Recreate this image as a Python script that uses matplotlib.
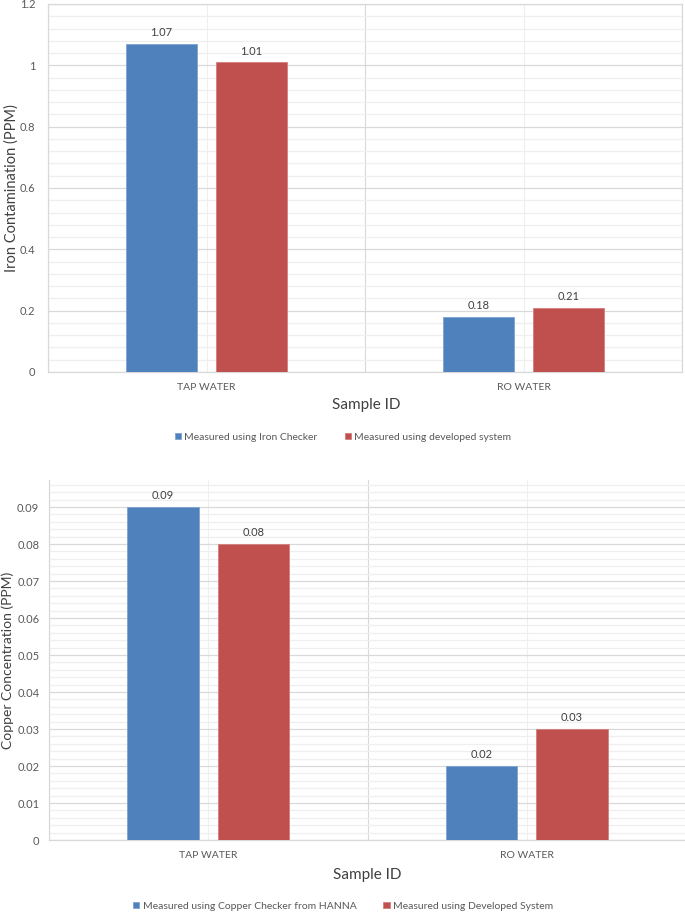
import numpy as np
import matplotlib.pyplot as plt
from matplotlib.ticker import MultipleLocator

plt.rcParams['font.family'] = ['Lato', 'DejaVu Sans']

samples = ["TAP WATER", "RO WATER"]

iron_checker = [1.07, 0.18]
iron_system = [1.01, 0.21]
iron_names = ["Measured using Iron Checker", "Measured using developed system"]

copper_checker = [0.09, 0.02]
copper_system = [0.08, 0.03]
copper_names = ["Measured using Copper Checker from HANNA", "Measured using Developed System"]

blue = "#4F81BD"
red = "#C0504D"
txt = "#595959"
major_c = "#d9d9d9"
minor_c = "#efefef"

W, H = 685, 913
fig = plt.figure(figsize=(W / 100, H / 100), dpi=100)


def draw(ax, a, b, names, ylim, major, minor, fmt, top_border, ypad):
    x = np.arange(len(samples))
    off = 0.142
    bw = 0.224
    b1 = ax.bar(x - off, a, bw, color=blue, edgecolor="#7ea3d1", linewidth=0.6,
                label=names[0], zorder=3)
    b2 = ax.bar(x + off, b, bw, color=red, edgecolor="#d27f7d", linewidth=0.6,
                label=names[1], zorder=3)
    for bars, vals in ((b1, a), (b2, b)):
        for r, v in zip(bars, vals):
            ax.annotate(fmt.format(v), (r.get_x() + r.get_width() / 2, v),
                        xytext=(0, 4), textcoords="offset points",
                        ha="center", va="bottom", fontsize=8, color="#404040")
    ax.set_xlim(-0.5, len(samples) - 0.5)
    ax.set_ylim(*ylim)
    ax.yaxis.set_major_locator(MultipleLocator(major))
    ax.yaxis.set_minor_locator(MultipleLocator(minor))
    ax.set_xticks(x)
    ax.set_xticklabels(samples)
    ax.grid(axis="y", which="major", color=major_c, lw=0.9, zorder=0)
    ax.grid(axis="y", which="minor", color=minor_c, lw=0.9, zorder=0)
    # vertical lines: category boundaries darker, centres lighter
    for xv in np.arange(len(samples) + 1) - 0.5:
        ax.axvline(xv, color=major_c, lw=0.8, zorder=0)
    for xv in x:
        ax.axvline(xv, color=minor_c, lw=0.8, zorder=0)
    ax.tick_params(axis="both", which="both", length=0, colors=txt, labelsize=8)
    ax.tick_params(axis="x", pad=8, labelsize=7.5)
    ax.tick_params(axis="y", pad=ypad)
    for s in ax.spines.values():
        s.set_color(major_c)
        s.set_linewidth(0.9)
    if not top_border:
        ax.spines["top"].set_visible(False)
        ax.spines["right"].set_visible(False)
    return b1, b2


ax1 = fig.add_axes([48 / W, 1 - 372 / H, (682 - 48) / W, (372 - 4) / H])
ax1.yaxis.set_major_formatter(plt.FuncFormatter(lambda v, p: "{:g}".format(round(v, 2))))
h1 = draw(ax1, iron_checker, iron_system, iron_names, (0, 1.2), 0.2, 0.04,
          "{:.2f}", True, 9)

ax2 = fig.add_axes([49 / W, 1 - 840 / H, (686 - 49) / W, (840 - 480) / H])
ax2.yaxis.set_major_formatter(plt.FuncFormatter(lambda v, p: "{:g}".format(round(v, 3))))
h2 = draw(ax2, copper_checker, copper_system, copper_names, (0, 0.0973), 0.01, 0.002,
          "{:.2f}", False, 7)

fig.text(12 / W, 1 - 188 / H, "Iron Contamination (PPM)", rotation=90,
         ha="center", va="center", fontsize=10.5, color="#404040")
fig.text(8 / W, 1 - 660 / H, "Copper Concentration (PPM)", rotation=90,
         ha="center", va="center", fontsize=10, color="#404040")

fig.text(366 / W, 1 - 405 / H, "Sample ID", ha="center", va="center",
         fontsize=11, color="#404040")
fig.text(367 / W, 1 - 875 / H, "Sample ID", ha="center", va="center",
         fontsize=11, color="#404040")

for hs, names, yc in ((h1, iron_names, 437), (h2, copper_names, 906)):
    leg = fig.legend(hs, names, loc="center", bbox_to_anchor=(343 / W, 1 - yc / H),
                     ncol=2, frameon=False, fontsize=7.5, handlelength=0.6,
                     handleheight=0.6, handletextpad=0.3, columnspacing=2.6)
    for t in leg.get_texts():
        t.set_color(txt)

fig.savefig("out.png", dpi=100)
